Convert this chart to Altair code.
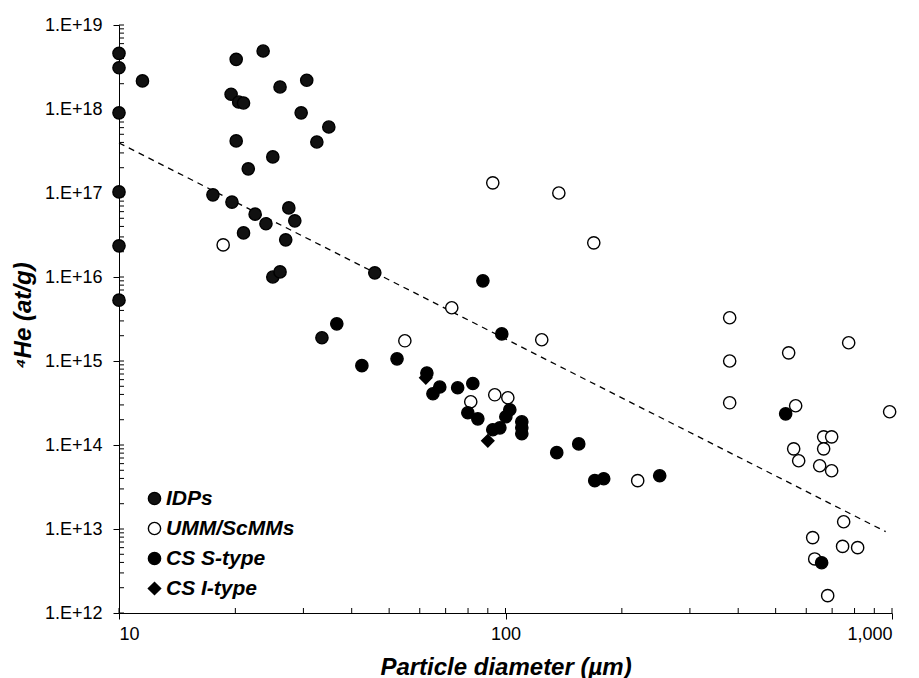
import altair as alt
import pandas as pd

# ---- data ----
idp_x = [10, 10, 10, 10, 10, 10, 11.5, 20.1, 23.6, 19.5, 20.4, 21.0, 26.1, 30.6, 29.6, 20.1,
         32.5, 34.9, 25.0, 21.6, 17.5, 19.6, 22.5, 24.0, 21.0, 27.5, 28.5, 27.0, 25.0, 26.1, 45.9, 33.5]
idp_y = [4.6e18, 3.1e18, 9.0e17, 1.03e17, 2.35e16, 5.3e15, 2.16e18, 3.9e18, 4.9e18, 1.5e18, 1.21e18,
         1.18e18, 1.83e18, 2.2e18, 9.0e17, 4.17e17, 4.05e17, 6.1e17, 2.69e17, 1.94e17, 9.5e16, 7.8e16,
         5.6e16, 4.3e16, 3.35e16, 6.65e16, 4.66e16, 2.77e16, 1.0e16, 1.15e16, 1.12e16, 1.89e15]

umm_x = [18.6, 54.9, 72.6, 81.3, 93.8, 101.4, 124.1, 92.7, 137.4, 169.2, 219.8, 380.2, 380.2, 380.2,
         540.3, 772.5, 563.3, 986, 665.5, 698, 556.7, 573.5, 665.5, 650, 698, 749.8, 623.4, 745,
         814.9, 631, 681.7]
umm_y = [2.41e16, 1.74e15, 4.3e15, 3.27e14, 3.96e14, 3.65e14, 1.79e15, 1.32e17, 1.0e17, 2.55e16,
         3.76e13, 3.27e15, 1.0e15, 3.18e14, 1.25e15, 1.65e15, 2.93e14, 2.49e14, 1.25e14, 1.25e14,
         9.0e13, 6.5e13, 9.0e13, 5.66e13, 4.94e13, 1.22e13, 7.9e12, 6.2e12, 6.0e12, 4.4e12, 1.61e12]

css_x = [36.6, 42.5, 52.4, 62.6, 67.6, 64.9, 75.2, 82.3, 79.9, 84.8, 102.6, 100.2, 110.2, 110.2,
         110.2, 96.7, 92.7, 97.8, 87.4, 135.7, 154.7, 170.2, 179.5, 250.6, 530.7, 657.6]
css_y = [2.77e15, 8.8e14, 1.06e15, 7.2e14, 4.9e14, 4.07e14, 4.8e14, 5.4e14, 2.42e14, 2.05e14,
         2.63e14, 2.17e14, 1.89e14, 1.6e14, 1.36e14, 1.6e14, 1.52e14, 2.1e15, 9.0e15, 8.1e13,
         1.03e14, 3.76e13, 3.97e13, 4.3e13, 2.35e14, 3.97e12]

csi_x = [62.2, 90.0]
csi_y = [6.3e14, 1.12e14]

trend_x = [10, 963]
trend_y = [3.94e17, 9.3e12]

categories = ["IDPs", "UMM/ScMMs", "CS S-type", "CS I-type"]
shapes = ["circle", "circle", "circle", "diamond"]
fills = ["#111111", "#ffffff", "#000000", "#000000"]
strokes = ["#000000", "#000000", "#000000", "#000000"]

x_major = [10, 100, 1000]
x_minor = [20, 30, 40, 50, 60, 70, 80, 90, 200, 300, 400, 500, 600, 700, 800, 900]
y_major = [1e12, 1e13, 1e14, 1e15, 1e16, 1e17, 1e18, 1e19]
y_minor = [k * 10.0 ** e for e in range(12, 19) for k in range(2, 10)]

# ---- tables ----
rows = []
for name, xs_, ys_ in [("UMM/ScMMs", umm_x, umm_y), ("IDPs", idp_x, idp_y),
                       ("CS S-type", css_x, css_y), ("CS I-type", csi_x, csi_y)]:
    for a, b in zip(xs_, ys_):
        rows.append({"x": a, "y": b, "type": name})
df = pd.DataFrame(rows)
df_trend = pd.DataFrame({"x": trend_x, "y": trend_y})
df_xt = pd.DataFrame({"x": x_major + x_minor})
df_yt = pd.DataFrame({"y": y_major + y_minor})

FONT = "Liberation Sans"
xs = alt.Scale(type="log", domain=[10, 1000], nice=False)
ys = alt.Scale(type="log", domain=[1e12, 1e19], nice=False)

xaxis = alt.Axis(values=x_major, labelExpr="format(datum.value, ',')", grid=False,
                 tickSize=6, tickColor="black", domainColor="black", tickWidth=1, domainWidth=1,
                 labelFont=FONT, labelFontSize=18, labelColor="black", labelPadding=6,
                 title="Particle diameter (µm)", titleFont=FONT, titleFontSize=24,
                 titleFontStyle="italic", titleFontWeight="bold", titleColor="black",
                 titleY=61, titleBaseline="alphabetic")
yaxis = alt.Axis(values=y_major, labelExpr="'1.E+' + round(log(datum.value) / LN10)", grid=False,
                 tickSize=6, tickColor="black", domainColor="black", tickWidth=1, domainWidth=1,
                 labelFont=FONT, labelFontSize=18, labelColor="black", labelPadding=11,
                 title="⁴He (at/g)", titleFont=FONT, titleFontSize=24,
                 titleFontStyle="italic", titleFontWeight="bold", titleColor="black",
                 titleX=-96, titleY=290, titleBaseline="middle", titleAngle=270)

X = alt.X("x:Q", scale=xs, axis=xaxis)
Y = alt.Y("y:Q", scale=ys, axis=yaxis)

leg = alt.Legend(title=None, orient="none", legendX=25, legendY=463, padding=0,
                 labelFont=FONT, labelFontSize=21, labelFontStyle="italic", labelFontWeight="bold",
                 labelColor="black", symbolSize=150, symbolStrokeWidth=1.4, rowPadding=8,
                 labelOffset=1)

points = alt.Chart(df).mark_point(filled=True, opacity=1, size=150, strokeWidth=1.4).encode(
    x=X, y=Y,
    shape=alt.Shape("type:N", scale=alt.Scale(domain=categories, range=shapes), legend=leg),
    fill=alt.Fill("type:N", scale=alt.Scale(domain=categories, range=fills), legend=leg),
    stroke=alt.Stroke("type:N", scale=alt.Scale(domain=categories, range=strokes), legend=leg),
)

trend = alt.Chart(df_trend).mark_line(color="black", strokeDash=[6, 5], strokeWidth=1.3).encode(
    x=X, y=Y)

xticks = alt.Chart(df_xt).mark_rule(color="black", strokeWidth=1).encode(
    x=X, y=alt.value(588), y2=alt.value(583))
yticks = alt.Chart(df_yt).mark_rule(color="black", strokeWidth=1).encode(
    y=Y, x=alt.value(0), x2=alt.value(5))

chart = alt.layer(trend, xticks, yticks, points).properties(
    width=773, height=588,
    autosize=alt.AutoSizeParams(type="none"),
    padding={"left": 111, "top": 17, "right": 19, "bottom": 68},
    background="white",
).configure_view(stroke=None)

chart.save("out.html", embed_options={"renderer": "svg", "actions": False})
